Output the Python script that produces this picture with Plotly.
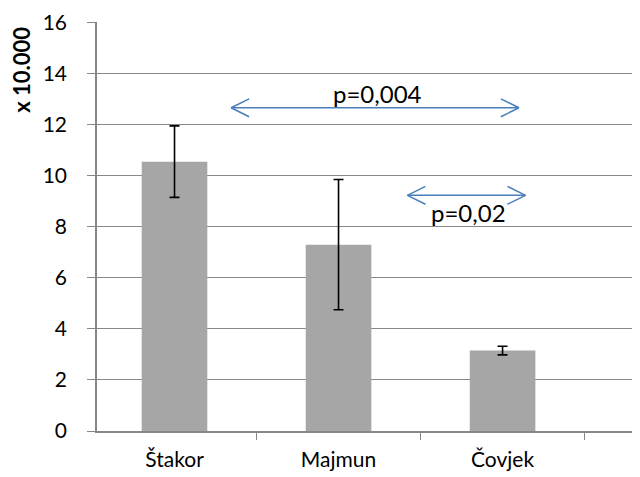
import plotly.graph_objects as go

categories = ["Štakor", "Majmun", "Čovjek"]
values = [10.55, 7.3, 3.15]
errors = [1.4, 2.55, 0.17]

# comparison arrows: (x start, x end, y, label, label x, label y) in category-index units
comparisons = [
    (0.345, 2.10, 12.66, "p=0,004", 1.235, 13.22),
    (1.42, 2.14, 9.23, "p=0,02", 1.79, 8.57),
]

BLUE = "#4A7EBB"
GRID = "#878787"
FONT = "Lato, Calibri, sans-serif"

fig = go.Figure()
fig.add_trace(
    go.Bar(
        x=categories,
        y=values,
        marker=dict(color="#A6A6A6", line=dict(width=0)),
        error_y=dict(type="data", array=errors, color="black", thickness=1.6, width=5),
        hoverinfo="skip",
    )
)

head_dx, head_dy = 0.11, 0.35
for x0, x1, yy, label, tx, ty in comparisons:
    fig.add_shape(type="line", xref="x", yref="y", x0=x0, x1=x1, y0=yy, y1=yy,
                  line=dict(color=BLUE, width=1.5))
    for tip, sgn in ((x0, 1), (x1, -1)):
        for dy in (head_dy, -head_dy):
            fig.add_shape(type="line", xref="x", yref="y", x0=tip, y0=yy,
                          x1=tip + sgn * head_dx, y1=yy + dy,
                          line=dict(color=BLUE, width=1.5))
    fig.add_annotation(x=tx, y=ty, xref="x", yref="y", text=label, showarrow=False,
                       font=dict(size=24, color="black", family=FONT))

fig.add_annotation(
    text="<b>x 10.000</b>", textangle=-90, showarrow=False,
    xref="paper", yref="paper", x=-0.1381, y=0.883,
    xanchor="center", yanchor="middle",
    font=dict(size=22, color="black", family=FONT),
)

fig.update_xaxes(
    range=[-0.4726, 2.838], tickson="boundaries", ticks="outside", ticklen=7,
    tickcolor=GRID, showline=True, linecolor=GRID, linewidth=1.5,
    showgrid=False, ticklabelstandoff=9,
    tickfont=dict(size=21, color="black", family=FONT),
)
fig.update_yaxes(
    range=[0, 16.02], tickvals=[0, 2, 4, 6, 8, 10, 12, 14, 16],
    ticks="outside", ticklen=8, tickcolor=GRID,
    showline=True, linecolor=GRID, linewidth=1.5,
    showgrid=True, gridcolor=GRID, gridwidth=1, zeroline=False,
    ticklabelstandoff=16, ticklabeloverflow="allow",
    tickfont=dict(size=21, color="black", family=FONT),
)
fig.update_layout(
    width=632, height=469,
    margin=dict(l=89, r=0, t=14, b=46),
    bargap=0.6,
    showlegend=False,
    paper_bgcolor="white", plot_bgcolor="white",
    font=dict(family=FONT),
)
fig.write_html("out.html")
